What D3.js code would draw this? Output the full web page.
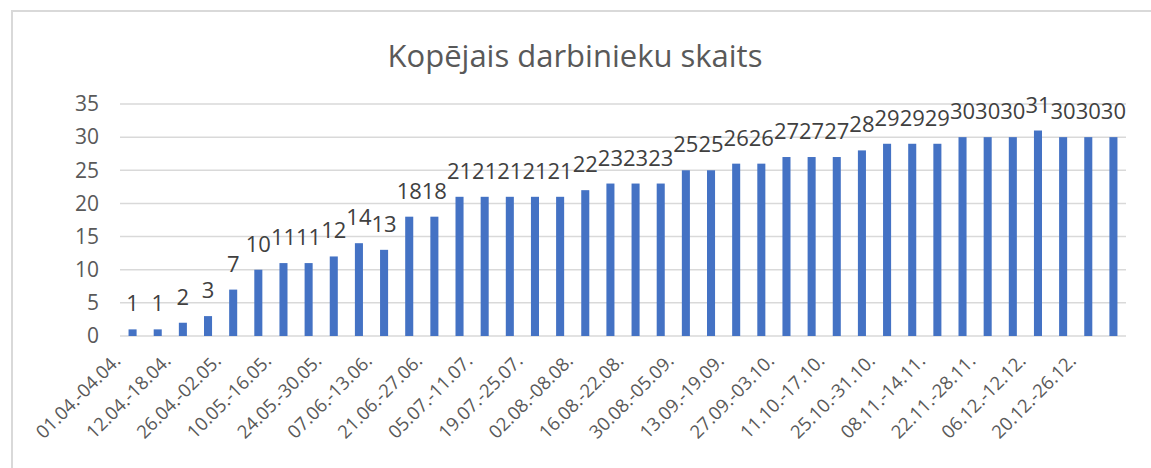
<!DOCTYPE html>
<html>
<head>
<meta charset="utf-8">
<script src="https://cdn.jsdelivr.net/npm/d3@7"></script>
<style>
  body { margin: 0; background: #fff; }
  svg { display: block; font-family: "Open Sans", "Noto Sans", sans-serif; }
</style>
</head>
<body>
<div class="chart"></div>
<script>
const weeks = [
  "01.04.-04.04.", "05.04.-11.04.", "12.04.-18.04.", "19.04.-25.04.", "26.04.-02.05.",
  "03.05.-09.05.", "10.05.-16.05.", "17.05.-23.05.", "24.05.-30.05.", "31.05.-06.06.",
  "07.06.-13.06.", "14.06.-20.06.", "21.06.-27.06.", "28.06.-04.07.", "05.07.-11.07.",
  "12.07.-18.07.", "19.07.-25.07.", "26.07.-01.08.", "02.08.-08.08.", "09.08.-15.08.",
  "16.08.-22.08.", "23.08.-29.08.", "30.08.-05.09.", "06.09.-12.09.", "13.09.-19.09.",
  "20.09.-26.09.", "27.09.-03.10.", "04.10.-10.10.", "11.10.-17.10.", "18.10.-24.10.",
  "25.10.-31.10.", "01.11.-07.11.", "08.11.-14.11.", "15.11.-21.11.", "22.11.-28.11.",
  "29.11.-05.12.", "06.12.-12.12.", "13.12.-19.12.", "20.12.-26.12.", "27.12.-31.12."
]
const workers = [
  1, 1, 2, 3, 7, 10, 11, 11, 12, 14,
  13, 18, 18, 21, 21, 21, 21, 21, 22, 23,
  23, 23, 25, 25, 26, 26, 27, 27, 27, 28,
  29, 29, 29, 30, 30, 30, 31, 30, 30, 30
]
const yTicks = [0, 5, 10, 15, 20, 25, 30, 35]
const title = "Kopējais darbinieku skaits"

const W = 1151, H = 468
const margin = { top: 104, right: 25, bottom: 132, left: 120 }
const width = W - margin.left - margin.right
const height = H - margin.top - margin.bottom

const root = d3.select(".chart").append("svg")
    .attr("width", W)
    .attr("height", H)

// chart frame
root.append("rect")
    .attr("x", 12)
    .attr("y", 11)
    .attr("width", W + 20)
    .attr("height", H + 20)
    .attr("fill", "none")
    .attr("stroke", "#d9d9d9")
    .attr("stroke-width", 2)

root.append("text")
    .attr("x", 575)
    .attr("y", 67)
    .attr("text-anchor", "middle")
    .style("font-size", "31px")
    .style("fill", "#595959")
    .text(title)

const svg = root.append("g")
    .attr("transform", `translate(${margin.left}, ${margin.top})`)

const x = d3.scaleBand().domain(weeks).range([0, width]).paddingInner(0.68).paddingOuter(0.34)
const y = d3.scaleLinear().domain([0, 35]).range([height, 0])

// gridlines
svg.selectAll(".grid")
    .data(yTicks)
    .join("line")
    .attr("x1", 0)
    .attr("x2", width)
    .attr("y1", d => y(d))
    .attr("y2", d => y(d))
    .attr("stroke", "#d9d9d9")
    .attr("stroke-width", 1.5)

// y axis
svg.append("g")
    .style("font-size", "21px")
    .call(d3.axisLeft(y).tickValues(yTicks).tickSize(0).tickPadding(21))
    .call(g => g.select(".domain").remove())
    .selectAll(".tick text")
    .style("fill", "#595959")
    .style("font-family", "\"Open Sans\", sans-serif")

// x axis, every second label
svg.append("g")
    .attr("transform", `translate(0, ${height})`)
    .style("font-size", "18.5px")
    .call(d3.axisBottom(x).tickValues(weeks.filter((d, i) => i % 2 == 0)).tickSize(0).tickPadding(0))
    .call(g => g.select(".domain").remove())
    .selectAll(".tick text")
    .style("fill", "#595959")
    .style("font-family", "\"Open Sans\", sans-serif")
    .attr("text-anchor", "end")
    .attr("dy", 0)
    .attr("transform", "translate(-11, 26) rotate(-45)")

svg.selectAll(".bar")
    .data(workers)
    .join("rect")
    .attr("x", (d, i) => x(weeks[i]))
    .attr("y", d => y(d))
    .attr("width", x.bandwidth())
    .attr("height", d => height - y(d))
    .attr("fill", "#4472c4")

svg.selectAll(".label")
    .data(workers)
    .join("text")
    .attr("x", (d, i) => x(weeks[i]) + x.bandwidth() / 2)
    .attr("y", d => y(d) - 18)
    .attr("text-anchor", "middle")
    .style("font-size", "22px")
    .style("fill", "#404040")
    .text(d => d)
</script>
</body>
</html>
